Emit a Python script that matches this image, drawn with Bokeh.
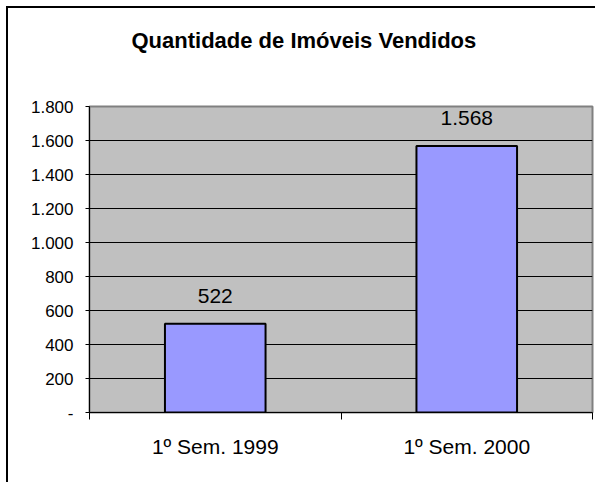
from bokeh.plotting import figure
from bokeh.models import FixedTicker, Range1d, ColumnDataSource, Title
from bokeh.core.properties import value
from bokeh.embed import file_html
from bokeh.resources import INLINE

title_text = "Quantidade de Imóveis Vendidos"
categories = ["1º Sem. 1999", "1º Sem. 2000"]
values = [522, 1568]
value_labels = ["522", "1.568"]
y_ticks = [0, 200, 400, 600, 800, 1000, 1200, 1400, 1600, 1800]
y_tick_labels = ["-", "200", "400", "600", "800", "1.000", "1.200", "1.400", "1.600", "1.800"]

centers = [i + 0.5 for i in range(len(categories))]
src = ColumnDataSource(dict(x=centers, top=values, label=value_labels))

p = figure(width=589, height=476, output_backend="svg", toolbar_location=None,
           x_range=Range1d(0, len(categories)), y_range=Range1d(0, 1800),
           min_border_left=81, min_border_right=5, min_border_top=98, min_border_bottom=72,
           margin=(6, 0, 0, 6),
           styles={"border-left": "2px solid black", "border-top": "2px solid black"})

# spacer (closest to the frame) pushes the real title upwards
spacer = Title(text=" ", text_font_size="10px", standoff=36)
p.add_layout(spacer, "above")
main_title = Title(text=title_text, align="left", offset=42, standoff=10,
                   text_font="Liberation Sans", text_font_size="22px",
                   text_font_style="bold", text_color="black")
p.add_layout(main_title, "above")

p.background_fill_color = "#C0C0C0"
p.border_fill_color = "white"
p.outline_line_color = "#808080"
p.outline_line_width = 2

p.vbar(x="x", top="top", width=0.4, bottom=0, source=src,
       fill_color="#9999FF", line_color="black", line_width=2)
p.text(x="x", y="top", text="label", source=src, y_offset=-28,
       text_align="center", text_baseline="alphabetic",
       text_font=value("Liberation Sans"), text_font_size="21px", text_color="black")

# y axis
p.yaxis.ticker = FixedTicker(ticks=y_ticks)
p.yaxis.major_label_overrides = {t: l for t, l in zip(y_ticks, y_tick_labels)}
p.yaxis.major_label_text_font = "Liberation Sans"
p.yaxis.major_label_text_font_size = "17px"
p.yaxis.major_label_text_color = "black"
p.yaxis.major_tick_out = 4
p.yaxis.major_tick_in = 0
p.yaxis.minor_tick_line_color = None
p.yaxis.major_label_standoff = 12
p.yaxis.axis_line_color = "black"

p.ygrid.ticker = FixedTicker(ticks=y_ticks[1:-1])
p.ygrid.grid_line_color = "black"
p.ygrid.grid_line_width = 1
p.xgrid.grid_line_color = None

# x axis
p.xaxis.ticker = FixedTicker(ticks=centers, minor_ticks=list(range(len(categories) + 1)))
p.xaxis.major_label_overrides = {c: l for c, l in zip(centers, categories)}
p.xaxis.major_label_text_font = "Liberation Sans"
p.xaxis.major_label_text_font_size = "21px"
p.xaxis.major_label_text_color = "black"
p.xaxis.major_tick_line_color = None
p.xaxis.major_tick_out = 7
p.xaxis.major_tick_in = 0
p.xaxis.minor_tick_out = 7
p.xaxis.minor_tick_in = 0
p.xaxis.minor_tick_line_color = "black"
p.xaxis.major_label_standoff = 15
p.xaxis.axis_line_color = "black"

open("out.html", "w").write(file_html(p, INLINE))
